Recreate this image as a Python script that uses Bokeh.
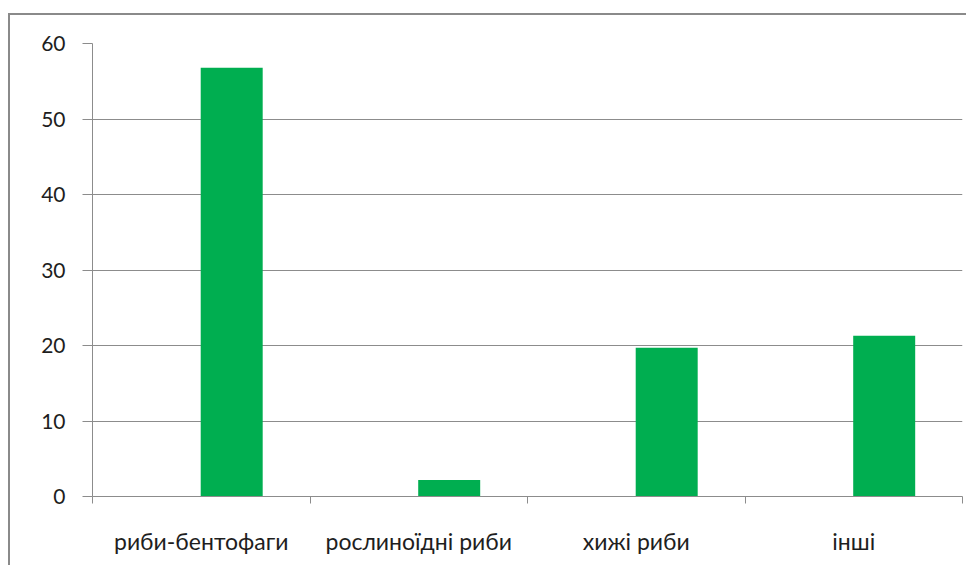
from bokeh.plotting import figure
from bokeh.models import Range1d, LinearAxis, FixedTicker, ColumnDataSource
from bokeh.transform import dodge
from bokeh.embed import file_html
from bokeh.resources import INLINE

categories = ["риби-бентофаги", "рослиноїдні риби", "хижі риби", "інші"]
values = [56.8, 2.2, 19.7, 21.3]
y_ticks = [0, 10, 20, 30, 40, 50, 60]

GRAY = "#8c8c8c"
TXT = "#1e1e1e"
FONT = "Lato"

n = len(categories)
centers = [i + 0.5 for i in range(n)]
edges = list(range(n + 1))
src = ColumnDataSource(data=dict(pos=centers, val=values))

p = figure(x_range=Range1d(0, n), y_range=Range1d(0, 60),
           width=958, height=552, output_backend="svg", toolbar_location=None,
           x_axis_location=None, y_axis_location="left",
           min_border_left=82, min_border_top=28, min_border_right=6, min_border_bottom=71)
p.styles = {"border-left": "2px solid #8a8a8a", "border-top": "2px solid #8a8a8a",
            "margin-top": "13px", "margin-left": "8px"}
p.outline_line_color = None
p.background_fill_color = "white"

p.vbar(x=dodge("pos", 0.14), top="val", width=0.285, source=src,
       fill_color="#00AE50", line_color=None)

# y axis
ya = p.yaxis[0]
ya.ticker = FixedTicker(ticks=y_ticks)
ya.axis_line_color = GRAY
ya.major_tick_line_color = GRAY
ya.major_tick_out = 10
ya.major_tick_in = 0
ya.minor_tick_line_color = None
ya.major_label_standoff = 17
ya.major_label_text_font = FONT
ya.major_label_text_font_size = "21px"
ya.major_label_text_color = TXT
p.ygrid.ticker = FixedTicker(ticks=y_ticks)
p.ygrid.grid_line_color = GRAY
p.xgrid.visible = False

# category axis: labels at centers, boundary ticks as minor ticks
ca = LinearAxis(ticker=FixedTicker(ticks=centers, minor_ticks=edges),
                major_label_overrides={c: lab for c, lab in zip(centers, categories)})
ca.axis_line_color = GRAY
ca.major_tick_line_color = None
ca.minor_tick_line_color = GRAY
ca.minor_tick_out = 7
ca.minor_tick_in = 0
ca.major_label_standoff = 23
ca.major_label_text_font = FONT
ca.major_label_text_font_size = "23px"
ca.major_label_text_color = TXT
p.add_layout(ca, "below")

open("out.html", "w").write(file_html(p, INLINE))
